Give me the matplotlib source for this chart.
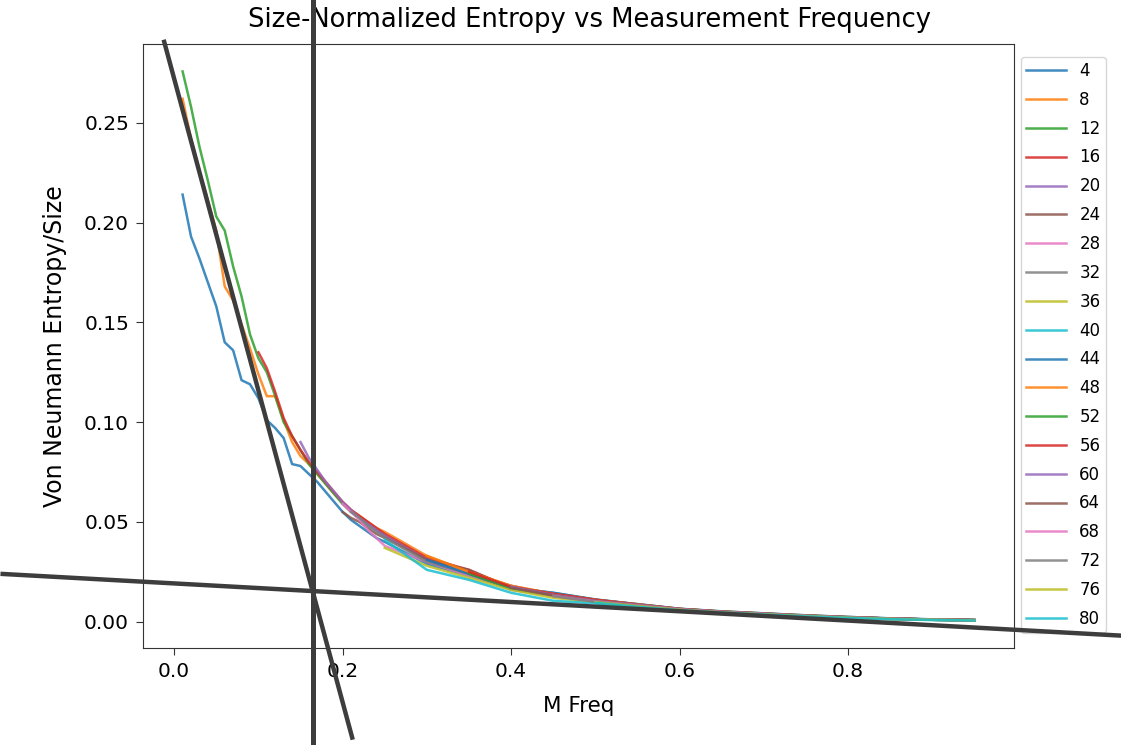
import matplotlib
matplotlib.use("Agg")
import matplotlib.pyplot as plt

# measurement frequencies (fine steps at low freq, coarse in the tail)
freq = [0.01, 0.02, 0.03, 0.04, 0.05, 0.06, 0.07, 0.08, 0.09, 0.10,
        0.11, 0.12, 0.13, 0.14, 0.15, 0.16, 0.17, 0.18, 0.19, 0.20,
        0.21, 0.22, 0.23, 0.24, 0.25, 0.30, 0.35, 0.40, 0.45, 0.50,
        0.55, 0.60, 0.65, 0.70, 0.75, 0.80, 0.85, 0.90, 0.95]

sizes = [4, 8, 12, 16, 20, 24, 28, 32, 36, 40,
         44, 48, 52, 56, 60, 64, 68, 72, 76, 80]

# entropy/size per system size, each list lines up with the last len() entries of freq
ent_4 = [0.214, 0.193, 0.182, 0.170, 0.158, 0.140, 0.136, 0.121, 0.119, 0.112,
         0.101, 0.097, 0.092, 0.079, 0.078, 0.074, 0.070, 0.065, 0.060, 0.055,
         0.051, 0.048, 0.045, 0.042, 0.040, 0.029, 0.023, 0.017, 0.0145, 0.011,
         0.0088, 0.0065, 0.0052, 0.0042, 0.0032, 0.0024, 0.0017, 0.0012, 0.0009]
ent_8 = [0.262, 0.242, 0.226, 0.211, 0.196, 0.168, 0.161, 0.149, 0.137, 0.124,
         0.113, 0.113, 0.101, 0.090, 0.083, 0.079, 0.074, 0.069, 0.064, 0.060,
         0.056, 0.053, 0.050, 0.047, 0.045, 0.033, 0.025, 0.018, 0.014, 0.011,
         0.0088, 0.0064, 0.0051, 0.0041, 0.0031, 0.0023, 0.0016, 0.0011, 0.0008]
ent_12 = [0.2757, 0.258, 0.238, 0.221, 0.203, 0.196, 0.178, 0.163, 0.144, 0.132,
          0.125, 0.113, 0.100, 0.093, 0.086, 0.079, 0.074, 0.069, 0.064, 0.059,
          0.055, 0.052, 0.049, 0.046, 0.043, 0.031, 0.024, 0.017, 0.0135, 0.0105,
          0.0085, 0.0063, 0.0050, 0.0040, 0.0030, 0.0022, 0.0016, 0.0011, 0.0008]
ent_16 = [0.135, 0.127, 0.115, 0.102, 0.093, 0.086, 0.080, 0.075, 0.070, 0.065,
          0.060, 0.056, 0.053, 0.050, 0.047, 0.044, 0.032, 0.026, 0.017, 0.014,
          0.011, 0.0086, 0.0064, 0.0050, 0.0040, 0.0030, 0.0022, 0.0016, 0.0011, 0.0008]
ent_20 = [0.090, 0.082, 0.076, 0.070, 0.065, 0.060, 0.056, 0.052, 0.049, 0.046,
          0.043, 0.031, 0.024, 0.018, 0.0135, 0.0105, 0.0085, 0.0063, 0.0050, 0.0040,
          0.0030, 0.0022, 0.0016, 0.0011, 0.0008]
ent_24 = [0.055, 0.052, 0.050, 0.047, 0.044, 0.042, 0.031, 0.026, 0.017, 0.013,
          0.010, 0.0082, 0.0062, 0.0049, 0.0039, 0.0029, 0.0021, 0.0015, 0.0010, 0.0007]
ent_28 = [0.059, 0.055, 0.051, 0.046, 0.042, 0.038, 0.030, 0.023, 0.017, 0.013,
          0.010, 0.0082, 0.0062, 0.0049, 0.0039, 0.0029, 0.0021, 0.0015, 0.0010, 0.0007]
ent_32 = [0.055, 0.052, 0.048, 0.045, 0.042, 0.030, 0.024, 0.016, 0.013, 0.010,
          0.0080, 0.0060, 0.0048, 0.0038, 0.0029, 0.0021, 0.0015, 0.0010, 0.0007]
ent_36 = [0.037, 0.028, 0.022, 0.016, 0.012, 0.0098, 0.0078, 0.0060, 0.0047, 0.0037,
          0.0028, 0.0020, 0.0014, 0.0010, 0.0007]
ent_40 = [0.041, 0.026, 0.021, 0.0145, 0.0105, 0.0092, 0.0075, 0.0058, 0.0046, 0.0036,
          0.0027, 0.0019, 0.0013, 0.0009, 0.0006]
ent_44 = [0.031, 0.024, 0.017, 0.0145, 0.0112, 0.0088, 0.0065, 0.0052, 0.0042, 0.0032,
          0.0024, 0.0017, 0.0012, 0.0009]
ent_48 = [0.033, 0.025, 0.018, 0.014, 0.011, 0.0087, 0.0064, 0.0051, 0.0041, 0.0031,
          0.0023, 0.0016, 0.0011, 0.0008]
ent_52 = [0.024, 0.017, 0.0135, 0.0105, 0.0085, 0.0063, 0.0050, 0.0040, 0.0030, 0.0022,
          0.0016, 0.0011, 0.0008]
ent_56 = [0.025, 0.0175, 0.014, 0.011, 0.0086, 0.0064, 0.0050, 0.0040, 0.0030, 0.0022,
          0.0016, 0.0011, 0.0008]
ent_60 = [0.0175, 0.0135, 0.0105, 0.0085, 0.0063, 0.0050, 0.0040, 0.0030, 0.0022, 0.0016,
          0.0011, 0.0008]
ent_64 = [0.017, 0.0132, 0.0103, 0.0083, 0.0062, 0.0049, 0.0039, 0.0029, 0.0021, 0.0015,
          0.0010, 0.0007]
ent_68 = [0.013, 0.0102, 0.0082, 0.0062, 0.0049, 0.0039, 0.0029, 0.0021, 0.0015, 0.0010,
          0.0007]
ent_72 = [0.0128, 0.0100, 0.0080, 0.0060, 0.0048, 0.0038, 0.0029, 0.0021, 0.0015, 0.0010,
          0.0007]
ent_76 = [0.0098, 0.0078, 0.0060, 0.0047, 0.0037, 0.0028, 0.0020, 0.0014, 0.0010, 0.0007]
ent_80 = [0.0095, 0.0075, 0.0058, 0.0046, 0.0036, 0.0027, 0.0019, 0.0013, 0.0009, 0.0006]

entropies = [ent_4, ent_8, ent_12, ent_16, ent_20, ent_24, ent_28, ent_32, ent_36, ent_40,
             ent_44, ent_48, ent_52, ent_56, ent_60, ent_64, ent_68, ent_72, ent_76, ent_80]

# hand-drawn guide lines on top of the plot, (x0, y0, x1, y1) in data units
cut_freq = 0.1646
steep_guide = (-0.0125, 0.2916, 0.212, -0.0591)
flat_guide = (-0.2062, 0.0240, 1.1258, -0.0070)

fig = plt.figure(figsize=(11.21, 7.45), dpi=100)
ax = fig.add_axes([143 / 1121, 97 / 745, 871 / 1121, 604 / 745])

for size, ent in zip(sizes, entropies):
    ax.plot(freq[-len(ent):], ent, lw=1.8, alpha=0.85, label=str(size))

ax.set_title('Size-Normalized Entropy vs Measurement Frequency', fontsize=18.6,
             pad=12, x=0.513)
ax.set_xlabel('M Freq', fontsize=15.5, labelpad=11)
ax.set_ylabel('Von Neumann Entropy/Size', fontsize=17, labelpad=12)
ax.tick_params(labelsize=14.5, length=5, pad=5, color='#333333')
for sp in ax.spines.values():
    sp.set_color('#333333')
ax.set_xticks([0.0, 0.2, 0.4, 0.6, 0.8])
ax.set_xlim(ax.get_xlim())
ax.set_ylim(ax.get_ylim())

ax.legend(loc='upper left', bbox_to_anchor=(1021 / 1121, 1 - 57 / 745),
          bbox_transform=fig.transFigure, borderaxespad=0, fontsize=12,
          handlelength=2.4, labelspacing=0.65, borderpad=0.3, handletextpad=0.8)

guide_color = '#3d3d3d'
ax.axvline(cut_freq, ymin=-0.17, ymax=1.08, color=guide_color, lw=3.6,
           clip_on=False, zorder=6)
for x0, y0, x1, y1 in [steep_guide, flat_guide]:
    ax.plot([x0, x1], [y0, y1], color=guide_color, lw=3.2, clip_on=False,
            solid_capstyle='butt', zorder=6)

fig.savefig('out.png', dpi=100)
